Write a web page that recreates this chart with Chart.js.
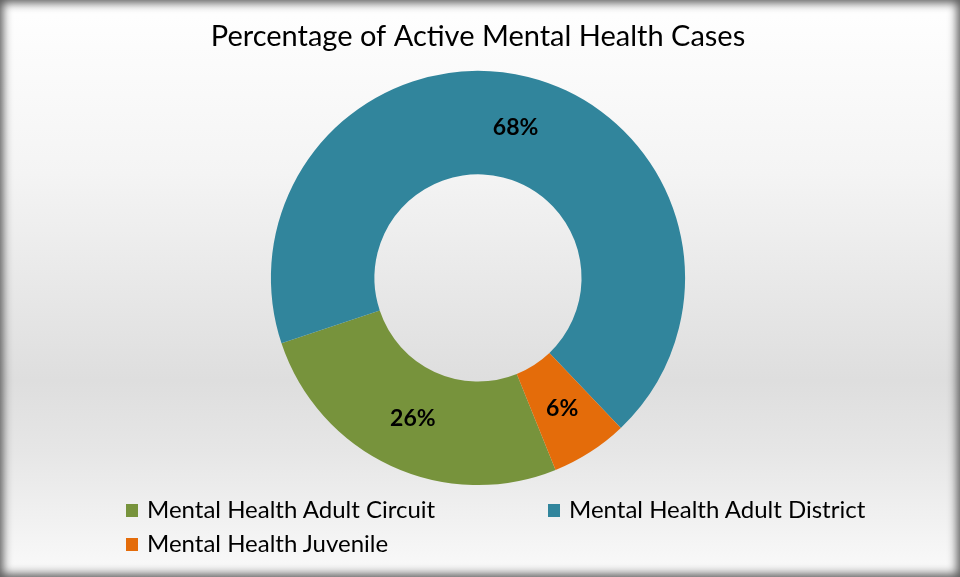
<!DOCTYPE html>
<html>
<head>
<meta charset="utf-8">
<script src="https://cdn.jsdelivr.net/npm/chart.js@4/dist/chart.umd.min.js"></script>
<style>
  html, body { margin: 0; padding: 0; }
  #wrap {
    position: relative; width: 960px; height: 577px; overflow: hidden;
    background: linear-gradient(to bottom, #ffffff 0%, #f4f4f4 30%, #dedede 66%, #e6e6e6 78%, #fafafa 100%);
  }
  #frame {
    position: absolute; left: 0; top: 0; width: 960px; height: 577px;
    box-shadow: inset 0 0 10px 3px #5a5a5a; pointer-events: none;
  }
  #myChart { position: absolute; left: 0; top: 0; }
  .leg { position: absolute; font-family: Lato, "Open Sans", sans-serif; font-size: 24px; color: #000; white-space: nowrap; }
  .leg span { display: inline-block; width: 12px; height: 13px; margin-right: 9px; vertical-align: 1px; }
</style>
</head>
<body>
<div id="wrap">
  <canvas id="myChart" width="960" height="577"></canvas>
  <div id="legend"></div>
  <div id="frame"></div>
</div>
<script>
var labels = ["Mental Health Adult Circuit", "Mental Health Adult District", "Mental Health Juvenile"];
var values = [26, 68, 6];
var colors = ["#77933c", "#31859c", "#e46c0a"];

// legend spots (two columns, Excel style)
var legendSpots = [[126, 494], [548, 494], [126, 528]];
var legendDiv = document.getElementById("legend");
labels.forEach(function(label, i) {
  var d = document.createElement("div");
  d.className = "leg";
  d.style.left = legendSpots[i][0] + "px";
  d.style.top = legendSpots[i][1] + "px";
  d.innerHTML = '<span style="background:' + colors[i] + '"></span>' + label;
  legendDiv.appendChild(d);
});

var pctLabels = {
  id: 'pctLabels',
  afterDatasetsDraw: function(chart) {
    var ctx = chart.ctx;
    var meta = chart.getDatasetMeta(0);
    ctx.save();
    ctx.fillStyle = '#000';
    ctx.font = 'bold 23px Lato, "Open Sans", sans-serif';
    ctx.textAlign = 'center';
    ctx.textBaseline = 'middle';
    meta.data.forEach(function(arc, i) {
      var p = arc.tooltipPosition();
      ctx.fillText(values[i] + '%', p.x, p.y);
    });
    ctx.restore();
  }
};

new Chart(document.getElementById("myChart"), {
  type: 'doughnut',
  data: {
    labels: labels,
    datasets: [{
      data: values,
      backgroundColor: colors,
      borderWidth: 0
    }]
  },
  options: {
    responsive: false,
    animation: false,
    rotation: 158,
    cutout: '50%',
    layout: { padding: { left: 0, right: 4, top: 0, bottom: 92 } },
    plugins: {
      legend: { display: false },
      tooltip: { enabled: false },
      title: {
        display: true,
        text: 'Percentage of Active Mental Health Cases',
        color: '#000',
        font: { family: 'Lato, "Open Sans", sans-serif', size: 29, weight: 'normal' },
        padding: { top: 19, bottom: 17 }
      }
    }
  },
  plugins: [pctLabels]
});
</script>
</body>
</html>
